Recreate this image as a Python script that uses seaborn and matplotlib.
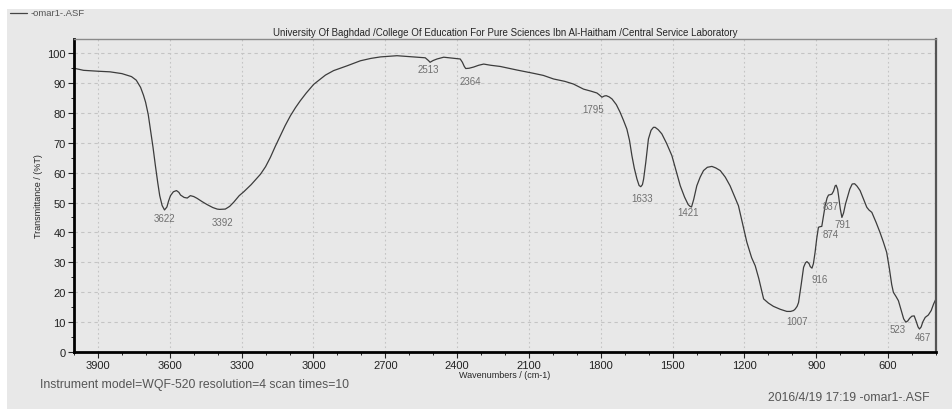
import numpy as np
import pandas as pd
import matplotlib
matplotlib.use("Agg")
import matplotlib.pyplot as plt
from matplotlib.ticker import MultipleLocator
import seaborn as sns

# spectrum (cm-1, %T)
wavenumber = [4000, 3960, 3900, 3850, 3800, 3760, 3740, 3722, 3710, 3701, 3690, 3681,
              3670, 3660, 3650, 3642, 3632, 3622, 3612, 3605, 3597, 3585, 3572, 3562,
              3555, 3540, 3527, 3514, 3500, 3486, 3465, 3444, 3420, 3402, 3392, 3368,
              3350, 3333, 3310, 3291, 3260, 3221, 3200, 3180, 3160, 3138, 3118, 3096,
              3075, 3055, 3030, 3013, 2999, 2974, 2950, 2916, 2860, 2804, 2760, 2720,
              2651, 2600, 2560, 2533, 2520, 2513, 2500, 2484, 2456, 2420, 2387, 2378,
              2370, 2364, 2350, 2331, 2310, 2289, 2260, 2220, 2150, 2081, 2040, 1997,
              1950, 1914, 1872, 1840, 1816, 1805, 1795, 1785, 1777, 1765, 1753, 1735,
              1719, 1705, 1691, 1680, 1670, 1660, 1649, 1640, 1633, 1626, 1621, 1612,
              1601, 1590, 1580, 1573, 1560, 1545, 1525, 1503, 1485, 1468, 1450, 1435,
              1427, 1421, 1412, 1399, 1385, 1371, 1355, 1336, 1320, 1301, 1280, 1260,
              1240, 1225, 1208, 1190, 1170, 1155, 1140, 1120, 1100, 1079, 1050, 1023,
              1007, 995, 988, 980, 974, 963, 953, 945, 939, 930, 925, 918,
              912, 905, 898, 891, 884, 877, 870, 863, 855, 849, 843, 835,
              828, 821, 817, 811, 807, 800, 793, 786, 778, 772, 760, 750,
              740, 730, 717, 703, 689, 680, 668, 650, 634, 620, 606, 595,
              585, 578, 567, 557, 545, 535, 526, 518, 510, 501, 491, 482,
              475, 469, 462, 455, 445, 432, 420, 410, 400]
transmittance = [95.0, 94.3, 94.0, 93.8, 93.2, 92.2, 91.0, 88.6, 86.0, 83.6, 79.5, 74.6,
                 68.5, 62.3, 56.5, 52.3, 49.0, 47.5, 48.5, 50.5, 52.3, 53.6, 54.0, 53.4,
                 52.5, 51.7, 51.5, 52.3, 52.0, 51.4, 50.3, 49.3, 48.3, 47.8, 47.7, 47.8,
                 48.7, 50.1, 52.3, 53.6, 56.0, 59.5, 62.0, 65.1, 68.7, 72.4, 75.8, 79.1,
                 81.8, 84.1, 86.7, 88.3, 89.6, 91.2, 92.7, 94.2, 95.8, 97.5, 98.3, 98.8,
                 99.2, 98.9, 98.7, 98.5, 97.6, 97.0, 97.6, 98.1, 98.7, 98.4, 98.1, 97.0,
                 95.6, 94.9, 95.0, 95.4, 96.0, 96.4, 96.0, 95.6, 94.4, 93.3, 92.6, 91.4,
                 90.6, 89.7, 88.0, 87.3, 86.7, 86.0, 85.3, 85.7, 85.8, 85.4, 84.7, 82.8,
                 80.2, 77.5, 74.6, 70.8, 65.7, 61.5, 57.9, 55.7, 55.3, 56.0, 57.9, 63.5,
                 71.3, 74.2, 75.2, 75.2, 74.4, 73.0, 69.8, 65.7, 60.5, 55.6, 51.8, 49.3,
                 48.7, 48.5, 51.0, 55.6, 58.5, 60.7, 61.8, 62.1, 61.6, 60.7, 58.5, 55.6,
                 51.8, 48.9, 43.0, 36.7, 31.5, 28.8, 24.5, 17.7, 16.3, 15.2, 14.2, 13.5,
                 13.5, 13.8, 14.3, 15.2, 16.5, 22.5, 28.3, 29.8, 30.2, 29.5, 28.5, 28.0,
                 29.5, 33.3, 38.0, 41.7, 41.9, 42.0, 45.5, 48.9, 51.5, 52.5, 52.6, 52.8,
                 53.8, 55.6, 55.8, 54.5, 52.3, 48.0, 45.0, 46.5, 49.5, 51.2, 54.5, 56.2,
                 56.3, 55.5, 54.0, 51.2, 48.4, 47.5, 46.7, 43.3, 40.0, 36.8, 33.3, 28.0,
                 22.5, 19.9, 18.5, 17.1, 13.8, 11.0, 9.9, 10.3, 11.2, 11.9, 12.0, 10.0,
                 8.3, 7.6, 8.3, 10.0, 11.5, 12.3, 13.8, 16.0, 17.7]

peak_labels = [3622, 3392, 2513, 2364, 1795, 1633, 1421, 1007, 916, 874, 837, 791, 523, 467]
# label offsets in pixels (right, down) from the curve point
label_offsets = [(0, 8), (3, 13), (-2, 7), (5, 12), (-9, 12), (1, 11), (-3, 5),
                 (6, 10), (7, 12), (8, 12), (-1, 12), (0, 8), (-9, 7), (3, 9)]

x_ticks = [3900, 3600, 3300, 3000, 2700, 2400, 2100, 1800, 1500, 1200, 900, 600]
y_ticks = [0, 10, 20, 30, 40, 50, 60, 70, 80, 90, 100]

bg = "#e8e8e8"
sns.set_style("whitegrid", {"axes.facecolor": bg, "figure.facecolor": "white",
                            "grid.color": "#c4c4c4", "axes.edgecolor": "black"})
plt.rcParams["font.family"] = ["Liberation Sans", "DejaVu Sans"]

fig = plt.figure(figsize=(9.53, 4.10), dpi=100)
# gray panel behind everything, white strip along top and left edge
fig.patches.append(plt.Rectangle((7 / 953, 0), 1, 400 / 410, transform=fig.transFigure,
                                 facecolor=bg, edgecolor="none", zorder=-5))
ax = fig.add_axes([74 / 953, (410 - 352.7) / 410, (936 - 74) / 953, (352.7 - 40) / 410])

spec = pd.DataFrame({"wn": wavenumber, "T": transmittance})
sns.lineplot(data=spec, x="wn", y="T", ax=ax, color="#3c3c3c", linewidth=0.9,
             sort=False, estimator=None)

ax.set_xlim(4000, 400)
ax.set_ylim(0, 104.8)
ax.set_xticks(x_ticks)
ax.set_yticks(y_ticks)
ax.xaxis.set_minor_locator(MultipleLocator(100))
ax.yaxis.set_minor_locator(MultipleLocator(5))
ax.grid(True, which="major", axis="x", linestyle=(0, (1.5, 2.5)), linewidth=0.8)
ax.grid(True, which="major", axis="y", linestyle=(0, (3, 3)), linewidth=0.8)
ax.tick_params(axis="both", which="major", direction="out", length=4, width=0.8,
               labelsize=8, colors="#222222", pad=2)
ax.tick_params(axis="both", which="minor", direction="out", length=2, width=0.7,
               color="#222222")
ax.tick_params(axis="both", which="both", bottom=True, left=True)

ax.spines["left"].set_linewidth(2)
ax.spines["bottom"].set_linewidth(2)
ax.spines["top"].set_color("#8a8a8a")
ax.spines["top"].set_linewidth(1)
ax.spines["right"].set_color("#555555")
ax.spines["right"].set_linewidth(1.6)

ax.set_xlabel("Wavenumbers / (cm-1)", fontsize=6.5, labelpad=0)
ax.set_ylabel("Transmittance / (%T)", fontsize=6.5, labelpad=3)
ax.set_title("University Of Baghdad /College Of Education For Pure Sciences Ibn Al-Haitham "
             "/Central Service Laboratory", fontsize=7, pad=3)

for wn, (dx, dy) in zip(peak_labels, label_offsets):
    t_val = np.interp(wn, wavenumber[::-1], transmittance[::-1])
    ax.annotate(str(wn), xy=(wn, t_val), xytext=(dx, -dy), textcoords="offset pixels",
                ha="center", va="center", fontsize=7, color="#707070")

# legend entry at top left
fig.lines.append(plt.Line2D([10 / 953, 27 / 953], [396 / 410, 396 / 410],
                            transform=fig.transFigure, color="#444444", linewidth=0.9))
fig.text(31 / 953, 396 / 410, "-omar1-.ASF", fontsize=6.8, color="#555555", va="center")

fig.text(40 / 953, 25 / 410, "Instrument model=WQF-520 resolution=4 scan times=10",
         fontsize=8.8, color="#555555", va="center")
fig.text(930 / 953, 12 / 410, "2016/4/19 17:19 -omar1-.ASF", fontsize=8.8,
         color="#555555", va="center", ha="right")

fig.savefig("out.png", dpi=100)
